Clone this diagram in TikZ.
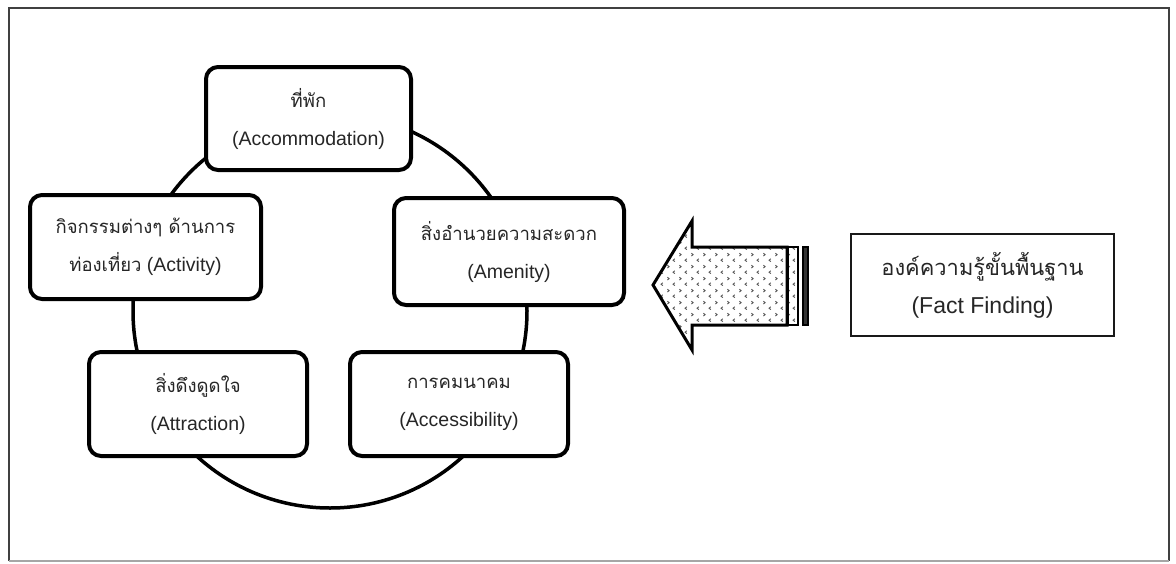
\documentclass[tikz,border=0pt]{standalone}
\usepackage{fontspec}
\setmainfont{Liberation Sans}
\newfontfamily\thai[Script=Thai,Scale=0.95]{Loma}
\usetikzlibrary{patterns.meta}

% small chevron texture for the arrow body
\tikzdeclarepattern{
  name=chevrons,
  type=uncolored,
  bottom left={(0pt,0pt)},
  top right={(12pt,12pt)},
  tile size={(12pt,12pt)},
  line width=0.8pt,
  code={
    \draw (3pt,1.5pt) -- (1.2pt,3pt) -- (3pt,4.5pt);
    \draw (8pt,7.5pt) -- (9.8pt,9pt) -- (8pt,10.5pt);
  }
}

\tikzset{
  factor/.style={draw=black, line width=4pt, rounded corners=12pt, fill=white,
    align=center, inner sep=0pt, text=black!85,
    font=\fontsize{19.5}{38}\selectfont},
  basebox/.style={draw=black!90, line width=2pt, fill=white, align=center,
    inner sep=0pt, text=black!85, font=\fontsize{23}{38}\selectfont},
  ring/.style={draw=black, line width=3.5pt},
  bigarrow/.style={draw=black, line width=3pt, line join=miter,
    pattern={chevrons}, pattern color=black!65},
}

\begin{document}
\begin{tikzpicture}[x=1pt,y=-1pt]
  \useasboundingbox (0,0) rectangle (1176,563);
  \fill[white] (0,0) rectangle (1176,563);

  % outer frame
  \draw[black!75, line width=2pt] (9,561) -- (9,8) -- (1169,8) -- (1169,561);
  \draw[black!35, line width=1.5pt] (9,561) -- (1169,561);

  % the ring behind the five factors
  \coordinate (hub) at (330,311);
  \draw[ring] (hub) circle[radius=197];

  % five factors
  \node[factor, minimum width=205, minimum height=103] (acc) at (308.5,118.5)
    {{\thai ที่พัก}\\(Accommodation)};
  \node[factor, minimum width=231, minimum height=104] (act) at (145.5,247)
    {{\thai กิจกรรมต่างๆ ด้านการ}\\{\thai ท่องเที่ยว} (Activity)};
  \node[factor, minimum width=230, minimum height=107] (amen) at (509,251.5)
    {{\thai สิ่งอำนวยความสะดวก}\\(Amenity)};
  \node[factor, minimum width=218, minimum height=104] (attr) at (198,404)
    {{\thai สิ่งดึงดูดใจ}\\(Attraction)};
  \node[factor, minimum width=218, minimum height=104] (access) at (459,404)
    {{\thai การคมนาคม}\\(Accessibility)};

  % base knowledge box
  \node[basebox, minimum width=263, minimum height=102] (fact) at (982.5,285)
    {{\thai องค์ความรู้ขั้นพื้นฐาน}\\(Fact Finding)};

  % striped block arrow pointing left
  \draw[bigarrow] (653,285) -- (692,221) -- (692,247) -- (787,247)
    -- (787,325) -- (692,325) -- (692,350) -- cycle;
  \draw[bigarrow, line width=2.5pt] (788,247) rectangle (798,325);
  \draw[draw=black, fill=black!80, line width=2pt] (803,247) rectangle (808,325);
\end{tikzpicture}
\end{document}
